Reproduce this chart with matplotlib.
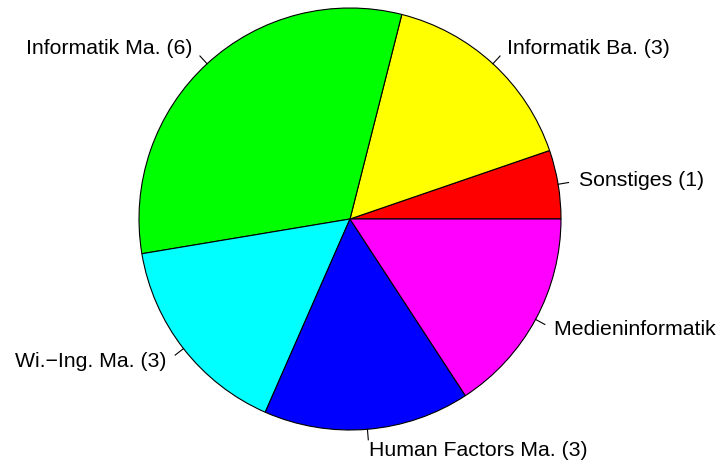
import numpy as np
import matplotlib
matplotlib.use("Agg")
import matplotlib.pyplot as plt

labels = ["Sonstiges (1)", "Informatik Ba. (3)", "Informatik Ma. (6)",
          "Wi.\u2212Ing. Ma. (3)", "Human Factors Ma. (3)", "Medieninformatik Ba. (3)"]
counts = [1, 3, 6, 3, 3, 3]
colors = ["#FF0000", "#FFFF00", "#00FF00", "#00FFFF", "#0000FF", "#FF00FF"]

plt.rcParams['font.family'] = ['Liberation Sans', 'DejaVu Sans']

fig = plt.figure(figsize=(7.21, 4.66), dpi=100)
ax = fig.add_axes([0, 0, 1, 1])
ax.axis('off')

# pixel geometry: centre (350, 219), radius 211 px
r_px = 211.0
cx, cy = 350.0, 219.0
ax.set_xlim(-cx / r_px, (721 - cx) / r_px)
ax.set_ylim(-(466 - cy) / r_px, cy / r_px)

wedges, _ = ax.pie(counts, colors=colors, startangle=0, counterclock=True,
                   radius=1, center=(0, 0), frame=True,
                   wedgeprops=dict(edgecolor='black', linewidth=0.8))
ax.axis('off')
ax.set_xlim(-cx / r_px, (721 - cx) / r_px)
ax.set_ylim(-(466 - cy) / r_px, cy / r_px)

total = float(sum(counts))
cum = np.cumsum([0] + counts)
for i, lab in enumerate(labels):
    mid = 2 * np.pi * (cum[i] + cum[i + 1]) / 2 / total
    c, s = np.cos(mid), np.sin(mid)
    ax.plot([c, 1.05 * c], [s, 1.05 * s], color='black', linewidth=0.8)
    ax.text(1.1 * c, 1.1 * s, lab, fontsize=15.3,
            ha='left' if c > 0 else 'right', va='center')

fig.savefig("out.png", dpi=100)
